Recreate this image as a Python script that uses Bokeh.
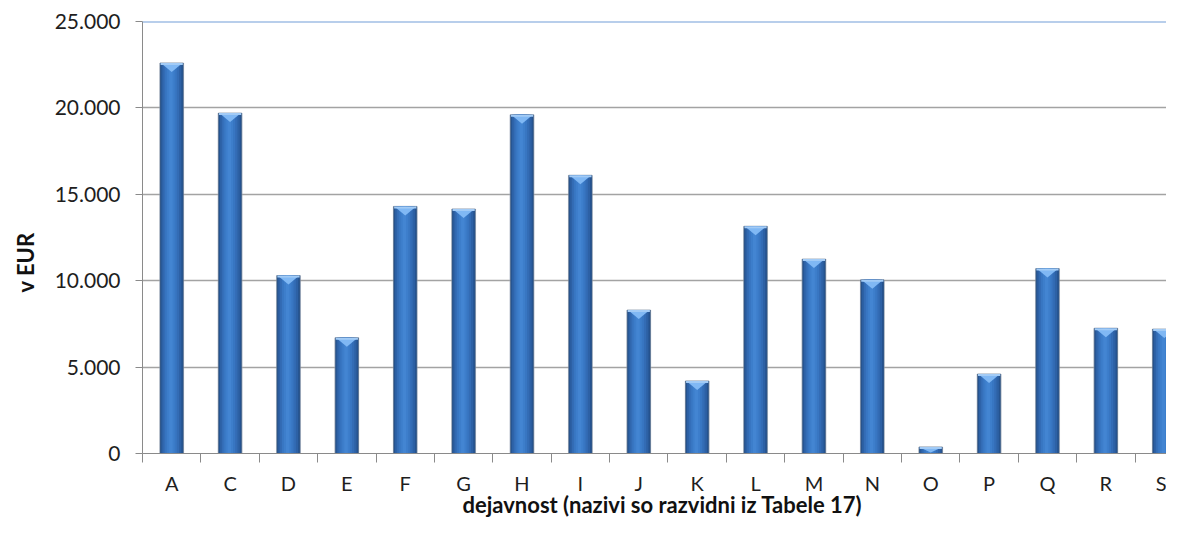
from bokeh.plotting import figure
from bokeh.models import Range1d, FixedTicker, Span, Title
from bokeh.embed import file_html
from bokeh.resources import INLINE

# ---- data ----
categories = ["A", "C", "D", "E", "F", "G", "H", "I", "J", "K", "L", "M", "N", "O", "P", "Q", "R", "S"]
values = [22600, 19700, 10300, 6700, 14300, 14150, 19600, 16100, 8300, 4200,
          13150, 11250, 10050, 380, 4600, 10700, 7250, 7200]
y_ticks = [0, 5000, 10000, 15000, 20000, 25000]
y_tick_labels = ["0", "5.000", "10.000", "15.000", "20.000", "25.000"]
x_title = "dejavnost (nazivi so razvidni iz Tabele 17)"
y_title = "v EUR"

n = len(categories)
xs = [i + 0.5 for i in range(n)]

W, H = 1166, 517
BL, BR, BT, BB = 140, 0, 21, 64
frame_h = H - BT - BB
frame_w = W - BL - BR
cat_px = 58.5
y_max = 25000
u_per_px = y_max / frame_h

p = figure(width=W, height=H, output_backend="svg", toolbar_location=None,
           x_range=Range1d(0, frame_w / cat_px), y_range=Range1d(0, y_max),
           min_border_left=BL, min_border_right=BR, min_border_top=BT, min_border_bottom=BB,
           outline_line_color=None, background_fill_color="white", border_fill_color="white")

# grid
p.xgrid.visible = False
p.ygrid.ticker = FixedTicker(ticks=y_ticks[1:-1])
p.ygrid.grid_line_color = "#A3A3A3"
p.ygrid.grid_line_width = 1.3
p.add_layout(Span(location=y_ticks[-1], dimension="width", line_color="#739DD8", line_width=2))

# bars: layered for a cylinder-like shading
bw = 0.4
p.vbar(x=xs, top=values, bottom=0, width=bw + 0.03, fill_color="#BFC6D0", fill_alpha=0.45, line_color=None)
p.vbar(x=xs, top=values, bottom=0, width=bw, fill_color="#25538F", line_color="#4F647F", line_alpha=0.6, line_width=1)
layers = [(0.34, -0.004, "#2D61A5"), (0.27, -0.008, "#336CB5"), (0.20, -0.012, "#3876C2"),
          (0.13, -0.014, "#3D7ECB"), (0.06, -0.014, "#4385D2")]
for w, off, col in layers:
    p.vbar(x=[x + off for x in xs], top=values, bottom=0, width=w, fill_color=col, line_color=None)

# top bevel cap
cap_d = 9 * u_per_px
tri_x, tri_y = [], []
for x, v in zip(xs, values):
    d = min(cap_d, v * 0.85)
    tri_x.append([x - 0.165, x + 0.165, x])
    tri_y.append([v - u_per_px, v - u_per_px, v - d])
p.patches(tri_x, tri_y, fill_color="#80B8F4", line_color=None)
p.segment(x0=[x - 0.19 for x in xs], x1=[x + 0.19 for x in xs],
          y0=[v - u_per_px for v in values], y1=[v - u_per_px for v in values],
          line_color="#A2CBF6", line_width=2)

# axes
axis_col = "#8A8A8A"
font = "Lato"
xa = p.xaxis[0]
xa.ticker = FixedTicker(ticks=xs, minor_ticks=list(range(n + 1)))
xa.major_label_overrides = {x: c for x, c in zip(xs, categories)}
xa.major_tick_line_color = None
xa.major_tick_out = 0
xa.major_tick_in = 0
xa.minor_tick_line_color = axis_col
xa.minor_tick_out = 9
xa.minor_tick_in = 0
xa.axis_line_color = axis_col
xa.major_label_standoff = 8
xa.major_label_text_font = font
xa.major_label_text_font_size = "20px"
xa.major_label_text_color = "#1E1E1E"

ya = p.yaxis[0]
ya.ticker = FixedTicker(ticks=y_ticks)
ya.major_label_overrides = {t: l for t, l in zip(y_ticks, y_tick_labels)}
ya.major_tick_out = 7
ya.major_tick_in = 0
ya.major_tick_line_color = axis_col
ya.minor_tick_line_color = None
ya.axis_line_color = axis_col
ya.major_label_standoff = 15
ya.major_label_text_font = font
ya.major_label_text_font_size = "21px"
ya.major_label_text_color = "#1E1E1E"

# axis titles
p.add_layout(Title(text=x_title, align="left", offset=320, standoff=-16, vertical_align="middle",
                   text_font=font, text_font_style="bold", text_font_size="22px",
                   text_color="#111111"), "below")
p.add_layout(Title(text=y_title, align="left", offset=161, standoff=22, vertical_align="top",
                   text_font=font, text_font_style="bold", text_font_size="22px",
                   text_color="#111111"), "left")

open("out.html", "w").write(file_html(p, INLINE))
